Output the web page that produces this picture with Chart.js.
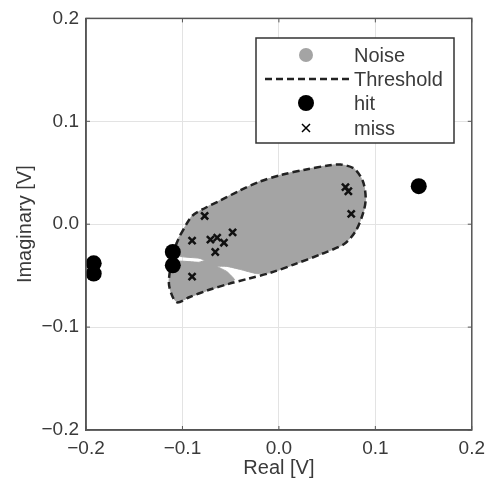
<!DOCTYPE html>
<html>
<head>
<meta charset="utf-8">
<script src="https://cdn.jsdelivr.net/npm/chart.js@4/dist/chart.umd.min.js"></script>
<style>
  html, body { margin: 0; padding: 0; background: #fff; }
  #wrap { width: 492px; height: 487px; }
</style>
</head>
<body>
<div id="wrap"><canvas id="chart" width="492" height="487"></canvas></div>
<script>
// Threshold contour (dashed), traced clockwise
const threshX = [-0.102, -0.090, -0.076, -0.061, -0.042, -0.021, 0.003, 0.027, 0.051, 0.064, 0.078, 0.087, 0.090, 0.088, 0.080, 0.068, 0.044, 0.016, -0.008, -0.032, -0.052, -0.073, -0.093, -0.105, -0.110, -0.114, -0.112, -0.107, -0.102];
const threshY = [-0.010, 0.008, 0.016, 0.023, 0.032, 0.041, 0.048, 0.053, 0.057, 0.058, 0.054, 0.042, 0.026, 0.013, -0.006, -0.019, -0.029, -0.039, -0.047, -0.053, -0.058, -0.064, -0.071, -0.076, -0.071, -0.058, -0.040, -0.021, -0.010];

// Noise cloud outline (grey area, with the two small notches on the lower left)
const noiseX = [-0.102, -0.090, -0.076, -0.061, -0.042, -0.021, 0.003, 0.027, 0.051, 0.064, 0.078, 0.087, 0.090, 0.088, 0.080, 0.068, 0.044, 0.016, -0.008, -0.023, -0.040, -0.054, -0.064, -0.054, -0.046, -0.052, -0.073, -0.093, -0.105, -0.110, -0.114, -0.112, -0.105, -0.083, -0.077, -0.083, -0.103, -0.108, -0.102];
const noiseY = [-0.010, 0.008, 0.016, 0.023, 0.032, 0.041, 0.048, 0.053, 0.057, 0.058, 0.054, 0.042, 0.026, 0.013, -0.006, -0.019, -0.029, -0.039, -0.047, -0.048, -0.044, -0.041, -0.041, -0.046, -0.054, -0.058, -0.064, -0.071, -0.076, -0.071, -0.058, -0.043, -0.036, -0.037, -0.035, -0.033, -0.031, -0.021, -0.010];

const hitX = [-0.192, -0.192, -0.110, -0.110, 0.145];
const hitY = [-0.038, -0.048, -0.027, -0.040, 0.037];

const missX = [-0.077, -0.090, -0.071, -0.064, -0.057, -0.066, -0.048, -0.090, 0.069, 0.072, 0.075];
const missY = [0.008, -0.016, -0.015, -0.013, -0.018, -0.027, -0.008, -0.051, 0.036, 0.032, 0.010];

const tickValues = [-0.2, -0.1, 0.0, 0.1, 0.2];
const tickLabels = ['\u22120.2', '\u22120.1', '0.0', '0.1', '0.2'];

const toPoints = (xs, ys) => xs.map((x, i) => ({ x, y: ys[i] }));

const NOISE_GREY = '#a4a4a4';
const TEXT = '#3a3a3a';
const FONT = 'Liberation Sans, Arial, sans-serif';

// Frame around the plot area plus inward tick marks
const framePlugin = {
    id: 'frame',
    afterDatasetsDraw(chart) {
        const { ctx, chartArea: a, scales } = chart;
        ctx.save();
        ctx.strokeStyle = '#555';
        ctx.lineWidth = 1.5;
        ctx.strokeRect(a.left, a.top, a.right - a.left, a.bottom - a.top);
        ctx.lineWidth = 1;
        ctx.beginPath();
        tickValues.forEach(v => {
            const px = scales.x.getPixelForValue(v);
            const py = scales.y.getPixelForValue(v);
            ctx.moveTo(px, a.top); ctx.lineTo(px, a.top + 4);
            ctx.moveTo(px, a.bottom); ctx.lineTo(px, a.bottom - 4);
            ctx.moveTo(a.left, py); ctx.lineTo(a.left + 4, py);
            ctx.moveTo(a.right, py); ctx.lineTo(a.right - 4, py);
        });
        ctx.stroke();
        ctx.restore();
    }
};

// Boxed legend inside the plot, top right
const boxLegend = {
    id: 'boxLegend',
    afterDraw(chart) {
        const { ctx } = chart;
        const left = 256, top = 38, width = 198, height = 105;
        const symX = 306, textX = 354;
        const rows = [55, 79, 103, 128];
        ctx.save();
        ctx.fillStyle = '#fff';
        ctx.fillRect(left, top, width, height);
        ctx.strokeStyle = '#333';
        ctx.lineWidth = 1.5;
        ctx.strokeRect(left, top, width, height);

        // Noise
        ctx.fillStyle = NOISE_GREY;
        ctx.beginPath(); ctx.arc(symX, rows[0], 7, 0, Math.PI * 2); ctx.fill();
        // Threshold
        ctx.strokeStyle = '#222';
        ctx.lineWidth = 2.5;
        ctx.setLineDash([7, 4]);
        ctx.beginPath(); ctx.moveTo(265, rows[1]); ctx.lineTo(349, rows[1]); ctx.stroke();
        ctx.setLineDash([]);
        // hit
        ctx.fillStyle = '#000';
        ctx.beginPath(); ctx.arc(symX, rows[2], 8, 0, Math.PI * 2); ctx.fill();
        // miss
        ctx.strokeStyle = '#000';
        ctx.lineWidth = 1.5;
        ctx.beginPath();
        ctx.moveTo(symX - 4, rows[3] - 4); ctx.lineTo(symX + 4, rows[3] + 4);
        ctx.moveTo(symX + 4, rows[3] - 4); ctx.lineTo(symX - 4, rows[3] + 4);
        ctx.stroke();

        ctx.fillStyle = TEXT;
        ctx.font = '20px ' + FONT;
        ctx.textBaseline = 'middle';
        ctx.textAlign = 'left';
        chart.data.datasets.forEach((ds, i) => ctx.fillText(ds.label, textX, rows[i] + 1));
        ctx.restore();
    }
};

new Chart(document.getElementById('chart'), {
    type: 'scatter',
    data: {
        datasets: [
            {
                label: 'Noise',
                data: toPoints(noiseX, noiseY),
                showLine: true,
                fill: 'shape',
                backgroundColor: NOISE_GREY,
                borderColor: NOISE_GREY,
                borderWidth: 1,
                pointRadius: 0,
                tension: 0.15,
                order: 4
            },
            {
                label: 'Threshold',
                data: toPoints(threshX, threshY),
                showLine: true,
                fill: false,
                borderColor: '#222',
                borderWidth: 2.5,
                borderDash: [7, 4],
                pointRadius: 0,
                tension: 0.3,
                order: 3
            },
            {
                label: 'hit',
                data: toPoints(hitX, hitY),
                pointStyle: 'circle',
                pointRadius: 8,
                backgroundColor: '#000',
                borderColor: '#000',
                borderWidth: 0,
                order: 2
            },
            {
                label: 'miss',
                data: toPoints(missX, missY),
                pointStyle: 'crossRot',
                pointRadius: 5,
                borderColor: '#111',
                borderWidth: 2.5,
                order: 1
            }
        ]
    },
    options: {
        responsive: false,
        animation: false,
        layout: { padding: { top: 17, right: 16, left: 0, bottom: 0 } },
        plugins: {
            legend: { display: false },
            tooltip: { enabled: false }
        },
        scales: {
            x: {
                type: 'linear',
                min: -0.2,
                max: 0.2,
                afterBuildTicks: s => { s.ticks = tickValues.map(v => ({ value: v })); },
                afterFit: s => { s.height = 57; },
                ticks: {
                    padding: 7,
                    color: TEXT,
                    font: { family: FONT, size: 19 },
                    callback: (v, i) => tickLabels[i]
                },
                grid: { color: '#e3e3e3', drawTicks: false },
                border: { color: '#555', width: 1.5 },
                title: {
                    display: true,
                    text: 'Real [V]',
                    color: TEXT,
                    font: { family: FONT, size: 20 },
                    padding: { top: 0, bottom: 7 }
                }
            },
            y: {
                type: 'linear',
                min: -0.2,
                max: 0.2,
                afterBuildTicks: s => { s.ticks = tickValues.map(v => ({ value: v })); },
                afterFit: s => { s.width = 86; },
                ticks: {
                    padding: 7,
                    color: TEXT,
                    font: { family: FONT, size: 19 },
                    callback: (v, i) => tickLabels[i]
                },
                grid: { color: '#e3e3e3', drawTicks: false },
                border: { color: '#555', width: 1.5 },
                title: {
                    display: true,
                    text: 'Imaginary [V]',
                    color: TEXT,
                    font: { family: FONT, size: 20 },
                    padding: { top: 13, bottom: 0 }
                }
            }
        }
    },
    plugins: [framePlugin, boxLegend]
});
</script>
</body>
</html>
